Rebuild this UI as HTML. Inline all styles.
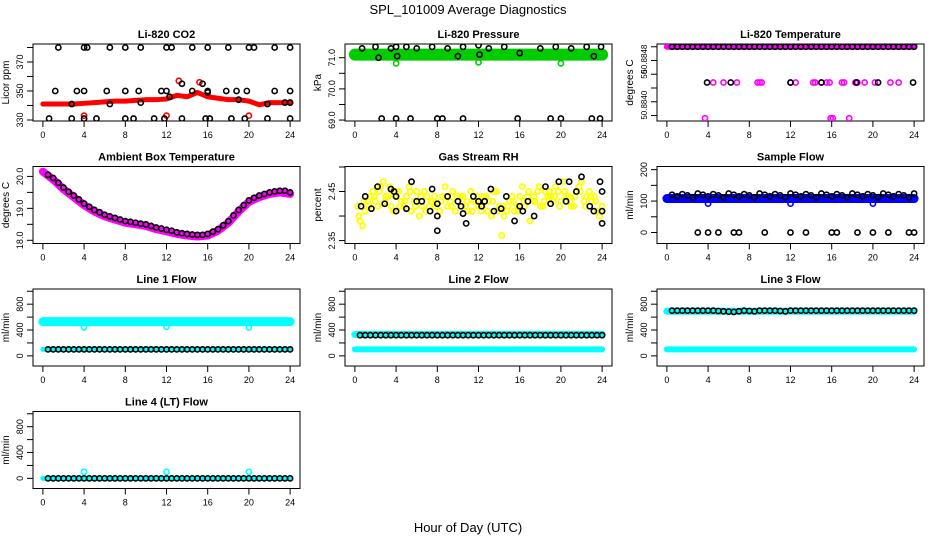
<!DOCTYPE html>
<html><head><meta charset="utf-8"><style>
html,body{margin:0;padding:0;background:#fff}
svg{display:block}
text{font-family:"Liberation Sans",sans-serif;fill:#000}
</style></head><body>
<svg id="chart" width="936" height="540" viewBox="0 0 936 540">
<text x="468" y="14" text-anchor="middle" font-size="13">SPL_101009  Average Diagnostics</text>
<text x="468" y="532" text-anchor="middle" font-size="13">Hour of Day (UTC)</text>
</svg>
<script>
const hours=[0,1,2,3,4,5,6,7,8,9,10,11,12,13,14,15,16,17,18,19,20,21,22,23,24];
const halfT=[0.5,1,1.5,2,2.5,3,3.5,4,4.5,5,5.5,6,6.5,7,7.5,8,8.5,9,9.5,10,10.5,11,11.5,12,12.5,13,13.5,14,14.5,15,15.5,16,16.5,17,17.5,18,18.5,19,19.5,20,20.5,21,21.5,22,22.5,23,23.5,24];
const xTicks=[0,4,8,12,16,20,24];
// CO2
const co2Red=[341,341,341,341,341.5,342,342.5,343,343,343.5,344,344,344.5,347,346,349,346,345,344,344,343,340.5,342,342,342];
const co2TopT=[1.5,4,4.3,6.5,8,9.5,12,12.5,14.5,16,18,20,20.5,22.5,24];
const co2TopV=[380,380,380,380,380,380,380,380,380,380,380,380,380,380,380];
const co2MidT=[1.2,3.3,4,6.2,8,9.3,11.5,12,14.5,16,17.8,18.8,19.8,22.5,24];
const co2MidV=[350,350,350,350,350,350,350,350,350,350,350,350,350,350,350];
const co2LowT=[0.6,2.8,4,5.2,8,8.8,10.8,11.8,13.5,15.8,16.2,18.3,19.6,21.8,24];
const co2LowV=[331,331,331,331,331,331,331,331,331,331,331,331,331,331,331];
const co2OnT=[2.8,6.5,9.5,12.3,13.5,15.5,16,19,21.8,23.5,24];
const co2OnV=[341,341,342,346,355,355,349,344,341,342,342];
const co2RedOutT=[4,12,20,13.2,15.2];
const co2RedOutV=[333,333,333,357,356];
// Pressure
const pressGreen=[71.1,71.1,71.1,71.1,71.1,71.1,71.1,71.1,71.1,71.1,71.1,71.1,71.1,71.1,71.1,71.1,71.1,71.1,71.1,71.1,71.1,71.1,71.1,71.1,71.1];
const pressTopT=[0.7,2,2.3,3.5,4,4.1,5,6,7.5,9,10,10.5,12,12.1,13,14.5,16,18,19.5,21,22.5,23.2,23.9];
const pressTopV=[71.3,71.35,71.0,71.3,71.35,71.05,71.35,71.3,71.35,71.3,71.05,71.35,71.4,71.1,71.3,71.35,71.15,71.3,71.35,71.3,71.35,71.05,71.35];
const pressLowT=[2.6,4,5.4,8,8.5,10.5,15.8,19,20,23,23.8];
const pressLowV=[69.05,69.05,69.05,69.05,69.05,69.05,69.05,69.05,69.05,69.05,69.05];
const pressGreenOutT=[4,12,20];
const pressGreenOutV=[70.82,70.85,70.82];
// Li-820 temperature
const tempTop=[50.8848,50.8848,50.8848,50.8848,50.8848,50.8848,50.8848,50.8848,50.8848,50.8848,50.8848,50.8848,50.8848,50.8848,50.8848,50.8848,50.8848,50.8848,50.8848,50.8848,50.8848,50.8848,50.8848,50.8848,50.8848];
const tempTopBlackV=[50.8848,50.8848,50.8848,50.8848,50.8848,50.8848,50.8848,50.8848,50.8848,50.8848,50.8848,50.8848,50.8848,50.8848,50.8848,50.8848,50.8848,50.8848,50.8848,50.8848,50.8848,50.8848,50.8848,50.8848,50.8848,50.8848,50.8848,50.8848,50.8848,50.8848,50.8848,50.8848,50.8848,50.8848,50.8848,50.8848,50.8848,50.8848,50.8848,50.8848,50.8848,50.8848,50.8848,50.8848,50.8848,50.8848,50.8848,50.8848];
const tempMidMagT=[4.5,5.5,6.8,8.8,9,9.2,12,12.5,14.2,14.4,15,15.5,15.8,17,17.2,18.3,18.5,19.2,20.2,21.7,22.5];
const tempMidMagV=[50.88428,50.88428,50.88428,50.88428,50.88428,50.88428,50.88428,50.88428,50.88428,50.88428,50.88428,50.88428,50.88428,50.88428,50.88428,50.88428,50.88428,50.88428,50.88428,50.88428,50.88428];
const tempMidBlkT=[3.9,6.2,12,15,18.4,20.5,23.9];
const tempMidBlkV=[50.88428,50.88428,50.88428,50.88428,50.88428,50.88428,50.88428];
const tempLowT=[3.7,15.9,16.1,17.7];
const tempLowV=[50.88376,50.88376,50.88376,50.88376];
// Ambient box temperature
const ambMag=[20.15,19.9,19.6,19.35,19.1,18.9,18.75,18.65,18.55,18.5,18.45,18.35,18.28,18.2,18.15,18.12,18.15,18.3,18.55,18.9,19.2,19.35,19.45,19.5,19.45];
const ambBlack=[20.05,19.95,19.8,19.65,19.52,19.4,19.28,19.15,19.05,18.95,18.88,18.8,18.75,18.7,18.65,18.6,18.58,18.55,18.52,18.5,18.45,18.4,18.37,18.33,18.3,18.25,18.22,18.2,18.18,18.17,18.17,18.2,18.27,18.35,18.47,18.6,18.78,18.95,19.1,19.25,19.33,19.4,19.45,19.5,19.53,19.55,19.55,19.5];
// Gas stream RH
const rhYellowA=[2.39,2.41,2.44,2.43,2.46,2.44,2.42,2.45,2.43,2.44,2.41,2.45,2.42,2.44,2.43,2.40,2.44,2.42,2.45,2.43,2.44,2.41,2.43,2.42,2.44,2.43,2.45,2.42,2.40,2.43,2.41,2.44,2.42,2.39,2.43,2.42,2.45,2.44,2.46,2.43,2.44,2.42,2.45,2.47,2.44,2.43,2.41,2.42];
const rhYellowB=[2.42,2.38,2.43,2.45,2.42,2.47,2.44,2.41,2.45,2.42,2.46,2.43,2.40,2.45,2.42,2.44,2.41,2.46,2.43,2.41,2.44,2.42,2.45,2.43,2.41,2.44,2.40,2.45,2.36,2.41,2.44,2.42,2.46,2.44,2.43,2.45,2.42,2.44,2.43,2.45,2.47,2.44,2.42,2.46,2.43,2.45,2.44,2.40];
const rhYellowC=[2.40,2.43,2.42,2.44,2.45,2.43,2.46,2.44,2.42,2.43,2.45,2.42,2.44,2.41,2.43,2.42,2.43,2.44,2.42,2.44,2.42,2.43,2.41,2.44,2.42,2.41,2.43,2.41,2.42,2.42,2.43,2.41,2.43,2.45,2.44,2.46,2.43,2.45,2.44,2.42,2.45,2.43,2.44,2.45,2.42,2.44,2.43,2.41];
const rhBlackT=[0.6,1,1.6,2.2,2.9,3.5,3.8,4,4,5,5.5,6,6.5,7.3,7.5,8,8,8,9,10,10.3,10.5,10.8,11.5,12,12.3,12.6,13.2,13.5,14.2,14.7,15.5,16,16.3,16.8,17.4,18.5,19,19.8,20.5,20.8,21.5,22,22.8,23.2,23.8,24,24,24];
const rhBlackV=[2.42,2.44,2.415,2.46,2.425,2.455,2.45,2.44,2.41,2.415,2.47,2.43,2.43,2.41,2.455,2.425,2.37,2.40,2.44,2.43,2.42,2.405,2.385,2.44,2.43,2.42,2.43,2.455,2.41,2.415,2.44,2.39,2.42,2.41,2.43,2.40,2.46,2.425,2.47,2.43,2.47,2.45,2.48,2.42,2.41,2.47,2.45,2.41,2.385];
// Sample flow
const flowBlue=[108,108,108,108,108,108,108,108,108,108,108,108,108,108,108,108,108,108,108,108,108,108,108,108,108];
const flowBlack=[120,115,122,118,112,124,120,115,122,118,112,124,120,115,122,118,112,124,120,115,122,118,112,124,120,115,122,118,112,124,120,115,122,118,112,124,120,115,122,118,112,124,120,115,122,118,112,124];
const flowZeroT=[3,4,5,6.5,7,9.5,12,13.5,16,16.5,18.5,20,21.5,23.5,24];
const flowZeroV=[0,0,0,0,0,0,0,0,0,0,0,0,0,0,0];
const flowBlueOutT=[4,12,20];
const flowBlueOutV=[92,92,92];
// Line flows
const line1Cyan=[530,530,530,530,530,530,530,530,530,530,530,530,530,530,530,530,530,530,530,530,530,530,530,530,530];
const line1CyanLow=[100,100,100,100,100,100,100,100,100,100,100,100,100,100,100,100,100,100,100,100,100,100,100,100,100];
const line1Black=[100,100,100,100,100,100,100,100,100,100,100,100,100,100,100,100,100,100,100,100,100,100,100,100,100,100,100,100,100,100,100,100,100,100,100,100,100,100,100,100,100,100,100,100,100,100,100,100];
const line2CyanHigh=[330,330,330,330,330,330,330,330,330,330,330,330,330,330,330,330,330,330,330,330,330,330,330,330,330];
const line2CyanLow=[100,100,100,100,100,100,100,100,100,100,100,100,100,100,100,100,100,100,100,100,100,100,100,100,100];
const line2Black=[320,320,320,320,320,320,320,320,320,320,320,320,320,320,320,320,320,320,320,320,320,320,320,320,320,320,320,320,320,320,320,320,320,320,320,320,320,320,320,320,320,320,320,320,320,320,320,320];
const line3CyanHigh=[690,690,690,690,690,690,690,690,690,690,690,690,690,690,690,690,690,690,690,690,690,690,690,690,690];
const line3CyanLow=[100,100,100,100,100,100,100,100,100,100,100,100,100,100,100,100,100,100,100,100,100,100,100,100,100];
const line3Black=[700,700,700,700,700,700,700,700,700,695,690,685,680,690,700,695,690,700,700,700,700,695,690,700,700,700,700,700,700,700,700,700,700,700,700,700,700,700,700,700,700,700,700,700,700,700,700,700];
const line4Cyan=[0,0,0,0,0,0,0,0,0,0,0,0,0,0,0,0,0,0,0,0,0,0,0,0,0];
const line4Black=[0,0,0,0,0,0,0,0,0,0,0,0,0,0,0,0,0,0,0,0,0,0,0,0,0,0,0,0,0,0,0,0,0,0,0,0,0,0,0,0,0,0,0,0,0,0,0,0];
const lineSpikeT=[4,12,20];
const line1SpikeV=[440,450,440];
const line4SpikeV=[100,100,100];

const NS='http://www.w3.org/2000/svg';
const svg=document.getElementById('chart');
function mk(tag,attrs,parent){const e=document.createElementNS(NS,tag);for(const k in attrs)e.setAttribute(k,attrs[k]);(parent||svg).appendChild(e);return e;}

function panel(name,col,row,title,ylab,ymin,ymax,ticks,labels,lfs){
  const L=33+col*312,T=44+row*122.5,W=267,H=77;
  const g=mk('g',{});
  
  
  const sx=t=>L+(t+0.96)/25.92*W;
  const sy=v=>T+H-(v-ymin)/(ymax-ymin)*H;
  const box=mk('rect',{x:L,y:T,width:W,height:H,fill:'none',stroke:'#000','stroke-width':1},g);
  
  
  const tt=mk('text',{x:L+W/2,y:T-6,'text-anchor':'middle','font-size':11,'font-weight':'bold'},g);
  tt.textContent=title;
  
  
  const yl=mk('text',{x:0,y:0,'text-anchor':'middle','font-size':10,transform:`translate(${L-24},${T+H/2}) rotate(-90)`},g);
  yl.textContent=ylab;
  
  
  xTicks.forEach(t=>{
    mk('line',{x1:sx(t),x2:sx(t),y1:T+H,y2:T+H+6,stroke:'#000'},g);
    const lb=mk('text',{x:sx(t),y:T+H+17,'text-anchor':'middle','font-size':9},g);
    lb.textContent=t;
    
    
  });
  ticks.forEach(v=>{mk('line',{x1:L-6,x2:L,y1:sy(v),y2:sy(v),stroke:'#000'},g);});
  labels.forEach(p=>{
    const lb=mk('text',{x:0,y:0,'text-anchor':'middle','font-size':lfs||9,transform:`translate(${L-10},${sy(p[0])}) rotate(-90)`},g);
    lb.textContent=p[1];
    
    
  });
  const clip='c'+name;
  const cp=mk('clipPath',{id:clip},g);mk('rect',{x:L,y:T,width:W,height:H},cp);
  const d=mk('g',{'clip-path':`url(#${clip})`},g);
  return {
    band(ts,vs,color,w,sname){
      const p=mk('polyline',{points:ts.map((t,i)=>sx(t)+','+sy(vs[i])).join(' '),fill:'none',stroke:color,'stroke-width':w,'stroke-linejoin':'round','stroke-linecap':'round'},d);
      
      
    },
    pts(ts,vs,color,sname,r,sw){
      const pg=mk('g',{},d);
      
      
      ts.forEach((t,i)=>{
        const c=mk('circle',{cx:sx(t),cy:sy(vs[i]),r:r||2.6,fill:'none',stroke:color,'stroke-width':sw||1.6},pg);
        
        
      });
    }
  };
}
const rng=(a,b,s)=>{const r=[];for(let v=a;v<=b+1e-9;v+=s)r.push(+v.toFixed(6));return r;};
const K='#000',RED='#ff0000',GRN='#00cc00',MAG='#ff00ff',YEL='#ffff00',BLU='#0000ff',CYA='#00ffff';

// CO2
let p=panel('co2',0,0,'Li-820 CO2','Licor ppm',329.3,382.4,rng(330,380,10),[[330,'330'],[350,'350'],[370,'370']]);
p.band(hours,co2Red,RED,5,'co2-red-series');
p.pts(co2RedOutT,co2RedOutV,RED,'co2-red-outliers');
p.pts(co2TopT,co2TopV,K,'co2-black-top');
p.pts(co2MidT,co2MidV,K,'co2-black-mid');
p.pts(co2LowT,co2LowV,K,'co2-black-low');
p.pts(co2OnT,co2OnV,K,'co2-black-on-line');
// Pressure
p=panel('pressure',1,0,'Li-820 Pressure','kPa',68.97,71.44,rng(69,71,0.5),[[69,'69.0'],[70,'70.0'],[71,'71.0']]);
p.band(hours,pressGreen,GRN,12,'pressure-green-series');
p.pts(pressGreenOutT,pressGreenOutV,GRN,'pressure-green-outliers');
p.pts(pressTopT,pressTopV,K,'pressure-black-top');
p.pts(pressLowT,pressLowV,K,'pressure-black-low');
// Li-820 Temperature
p=panel('li820-temp',2,0,'Li-820 Temperature','degrees C',50.88372,50.88484,rng(50.8838,50.8848,0.0002),[[50.88462,'50.8848'],[50.8844,'50'],[50.88395,'50.8840']],8);
p.band(hours,tempTop,MAG,6,'temp-magenta-top');
p.pts(halfT,tempTopBlackV,K,'temp-black-top');
p.pts(tempMidMagT,tempMidMagV,MAG,'temp-magenta-mid');
p.pts(tempMidBlkT,tempMidBlkV,K,'temp-black-mid');
p.pts(tempLowT,tempLowV,MAG,'temp-magenta-low');
// Ambient
p=panel('ambient',0,1,'Ambient Box Temperature','degrees C',17.9,20.31,rng(18,20,0.5),[[18,'18.0'],[19,'19.0'],[20,'20.0']]);
p.band(hours,ambMag,MAG,8,'ambient-magenta-series');
p.pts(halfT,ambBlack,K,'ambient-black-points');
// RH
p=panel('rh',1,1,'Gas Stream RH','percent',2.344,2.501,rng(2.35,2.5,0.05),[[2.35,'2.35'],[2.45,'2.45']]);
p.pts(halfT,rhYellowA,YEL,'rh-yellow-a',2.6,1.8);
p.pts(halfT.map(t=>t-0.25),rhYellowB,YEL,'rh-yellow-b',2.6,1.8);
p.pts(halfT.map(t=>t-0.12),rhYellowC,YEL,'rh-yellow-c',2.6,1.8);
p.pts(rhBlackT,rhBlackV,K,'rh-black-points');
// Sample flow
p=panel('sample-flow',2,1,'Sample Flow','ml/min',-35,210,rng(0,200,50),[[0,'0'],[100,'100'],[200,'200']]);
p.band(hours,flowBlue,BLU,9,'flow-blue-series');
p.pts(flowBlueOutT,flowBlueOutV,BLU,'flow-blue-outliers');
p.pts(halfT,flowBlack,K,'flow-black-points');
p.pts(flowZeroT,flowZeroV,K,'flow-zero-points');
const LT=rng(0,1000,200),LL=[[0,'0'],[400,'400'],[800,'800']];
// Line 1
p=panel('line1',0,2,'Line 1 Flow','ml/min',-157,1035,LT,LL);
p.band(hours,line1Cyan,CYA,9,'line1-cyan-high');
p.band(hours,line1CyanLow,CYA,5,'line1-cyan-low');
p.pts(lineSpikeT,line1SpikeV,CYA,'line1-cyan-dips');
p.pts(halfT,line1Black,K,'line1-black-points');
// Line 2
p=panel('line2',1,2,'Line 2 Flow','ml/min',-157,1035,LT,LL);
p.band(hours,line2CyanHigh,CYA,7,'line2-cyan-high');
p.band(hours,line2CyanLow,CYA,6,'line2-cyan-low');
p.pts(halfT,line2Black,K,'line2-black-points');
// Line 3
p=panel('line3',2,2,'Line 3 Flow','ml/min',-157,1035,LT,LL);
p.band(hours,line3CyanHigh,CYA,7,'line3-cyan-high');
p.band(hours,line3CyanLow,CYA,6,'line3-cyan-low');
p.pts(halfT,line3Black,K,'line3-black-points');
// Line 4
p=panel('line4',0,3,'Line 4 (LT) Flow','ml/min',-157,1035,LT,LL);
p.band(hours,line4Cyan,CYA,5,'line4-cyan-series');
p.pts(lineSpikeT,line4SpikeV,CYA,'line4-cyan-spikes');
p.pts(halfT,line4Black,K,'line4-black-points');
</script>
</body></html>
